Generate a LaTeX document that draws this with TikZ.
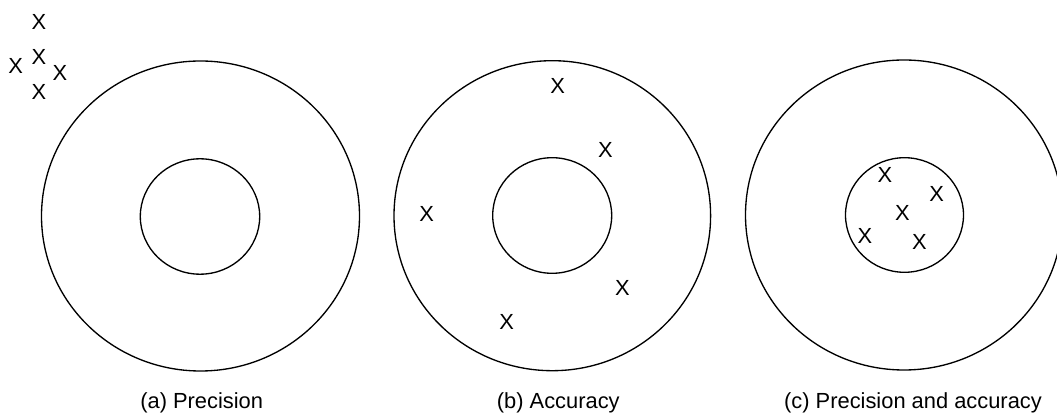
\documentclass[tikz,border=0pt]{standalone}
\usepackage{fontspec}
\setmainfont{Liberation Sans}
\begin{document}
\begin{tikzpicture}[x=0.75pt,y=-0.75pt,
  ring/.style={line width=1pt,black},
  hit/.style={inner sep=0pt,font=\fontsize{16.4}{18}\selectfont},
  caption/.style={inner sep=0pt,font=\fontsize{16.4}{18}\selectfont}]
\useasboundingbox (0,0) rectangle (1057,416);
% (a)
\draw[ring] (200.5,216) ellipse [x radius=159, y radius=155];
\draw[ring] (200,216.5) ellipse [x radius=59.7, y radius=57.7];
\node[hit] (a1) at (39,21.7) {X};
\node[hit] (a2) at (39,57.3) {X};
\node[hit] (a3) at (15.7,65.7) {X};
\node[hit] (a4) at (60,73.3) {X};
\node[hit] (a5) at (39,91.7) {X};
\node[caption] (la) at (201.7,403) {(a) Precision};
% (b)
\draw[ring] (552.3,215.7) ellipse [x radius=158.3, y radius=155];
\draw[ring] (552.2,215.5) ellipse [x radius=59.5, y radius=57.8];
\node[hit] (b1) at (557.7,86) {X};
\node[hit] (b2) at (605.3,150) {X};
\node[hit] (b3) at (426.7,214) {X};
\node[hit] (b4) at (622.3,288.3) {X};
\node[hit] (b5) at (506.7,321.7) {X};
\node[caption] (lb) at (558.3,403) {(b) Accuracy};
% (c)
\draw[ring] (904,215) ellipse [x radius=158.5, y radius=155];
\draw[ring] (904.5,215) ellipse [x radius=59, y radius=57.3];
\node[hit] (c1) at (885,175) {X};
\node[hit] (c2) at (936.7,194.3) {X};
\node[hit] (c3) at (902.3,212.7) {X};
\node[hit] (c4) at (865,235.7) {X};
\node[hit] (c5) at (919.3,242.3) {X};
\node[caption] (lc) at (913,403) {(c) Precision and accuracy};
\end{tikzpicture}
\end{document}
